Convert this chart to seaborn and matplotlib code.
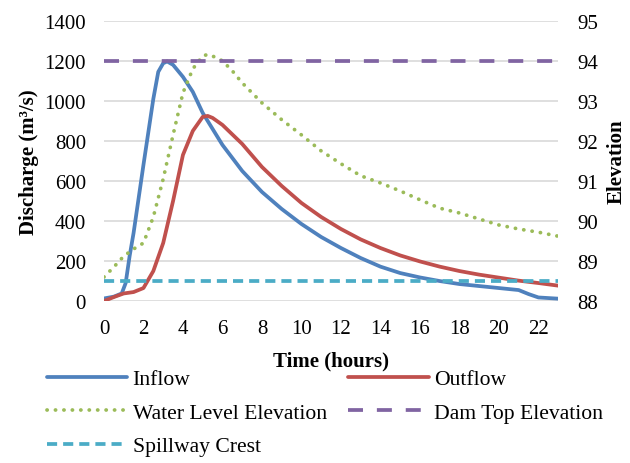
import numpy as np
import pandas as pd
import matplotlib
matplotlib.use('Agg')
import matplotlib.pyplot as plt
import seaborn as sns

# Hydrograph readings (time in hours)
inflow_t = [0, 0.5, 0.9, 1.1, 1.3, 1.5, 2, 2.5, 2.75, 3, 3.2, 3.5, 4, 4.5, 5, 5.5, 6, 7, 8, 9,
            10, 11, 12, 13, 14, 15, 16, 17, 18, 19, 20, 21, 21.5, 22, 23]
inflow = [13, 22, 38, 90, 225, 340, 680, 1010, 1145, 1188, 1197, 1180, 1120, 1045, 940, 860,
          780, 650, 545, 460, 385, 320, 265, 215, 172, 140, 118, 100, 85, 75, 65, 55, 35, 18, 12]

outflow_t = [0, 0.5, 1, 1.5, 2, 2.5, 3, 3.5, 4, 4.5, 5, 5.25, 5.5, 6, 7, 8, 9, 10, 11, 12,
             13, 14, 15, 16, 17, 18, 19, 20, 21, 22, 23]
outflow = [0, 20, 38, 45, 65, 150, 290, 500, 730, 850, 920, 925, 915, 880, 785, 670, 575,
           490, 420, 360, 308, 265, 228, 198, 172, 150, 132, 117, 102, 90, 77]

level_t = [0, 0.5, 1, 1.5, 2, 2.5, 3, 3.5, 4, 4.5, 5, 5.25, 5.5, 6, 6.5, 7, 8, 9, 10, 11,
           12, 13, 14, 15, 16, 17, 18, 19, 20, 21, 22, 23]
level = [88.6, 88.85, 89.12, 89.3, 89.45, 90.1, 91.05, 92.15, 93.2, 93.8, 94.12, 94.16,
         94.12, 94.0, 93.75, 93.45, 92.95, 92.53, 92.15, 91.75, 91.43, 91.13, 90.95, 90.75,
         90.53, 90.32, 90.2, 90.05, 89.9, 89.8, 89.72, 89.62]

dam_top = 94.0
spillway_crest = 88.5
t_range = [0, 23]

blue, red, green, purple, cyan = '#4F81BD', '#C0504D', '#9BBB59', '#8064A2', '#4BACC6'

sns.set_style('white')
plt.rcParams['font.family'] = ['Liberation Serif', 'DejaVu Serif']
plt.rcParams['text.color'] = 'black'
plt.rcParams['axes.labelcolor'] = 'black'
plt.rcParams['xtick.color'] = 'black'
plt.rcParams['ytick.color'] = 'black'
fs = 15

fig, ax = plt.subplots(figsize=(6.3, 4.64), dpi=100)
fig.subplots_adjust(left=0.165, right=0.886, top=0.953, bottom=0.349)
ax2 = ax.twinx()

lw = 2.7
sns.lineplot(x=inflow_t, y=inflow, ax=ax, color=blue, lw=lw, label='Inflow', legend=False)
sns.lineplot(x=outflow_t, y=outflow, ax=ax, color=red, lw=lw, label='Outflow', legend=False)
sns.lineplot(x=level_t, y=level, ax=ax2, color=green, lw=lw, label='Water Level Elevation',
             legend=False, linestyle=(0, (0.05, 2.2)), dash_capstyle='round')
sns.lineplot(x=t_range, y=[dam_top] * 2, ax=ax2, color=purple, lw=lw,
             label='Dam Top Elevation', legend=False, linestyle=(0, (4.0, 3.7)))
sns.lineplot(x=t_range, y=[spillway_crest] * 2, ax=ax2, color=cyan, lw=lw,
             label='Spillway Crest', legend=False, linestyle=(0, (2.7, 1.6)))

ax.set_xlim(0, 23)
ax.set_ylim(0, 1400)
ax2.set_ylim(88, 95)
ax.set_xticks(range(0, 23, 2))
ax.set_yticks(range(0, 1401, 200))
ax2.set_yticks(range(88, 96))
ax.grid(axis='y', color='#d9d9d9', lw=1.2)
ax.set_axisbelow(True)
for a in (ax, ax2):
    for s in a.spines.values():
        s.set_visible(False)
    a.tick_params(length=0, labelsize=fs)
ax.tick_params(axis='x', pad=13)
ax.tick_params(axis='y', pad=13)
ax2.tick_params(axis='y', pad=14)

ax.set_xlabel('Time (hours)', fontsize=fs, fontweight='bold', labelpad=9)
ax.set_ylabel('Discharge (m³/s)', fontsize=fs, fontweight='bold', labelpad=4)
ax2.set_ylabel('Elevation', fontsize=fs, fontweight='bold', labelpad=6)

h1, l1 = ax.get_legend_handles_labels()
h2, l2 = ax2.get_legend_handles_labels()
hd = dict(zip(l1 + l2, h1 + h2))
order = ['Inflow', 'Water Level Elevation', 'Spillway Crest', 'Outflow', 'Dam Top Elevation']
fig.legend([hd[k] for k in order], order, ncol=2, loc='upper left',
           bbox_to_anchor=(47 / 630, 1 - 370 / 464), frameon=False, fontsize=15.6,
           handlelength=3.7, handletextpad=0.25, columnspacing=1.0, labelspacing=0.62,
           borderpad=0, borderaxespad=0)

fig.savefig('out.png', dpi=100)
